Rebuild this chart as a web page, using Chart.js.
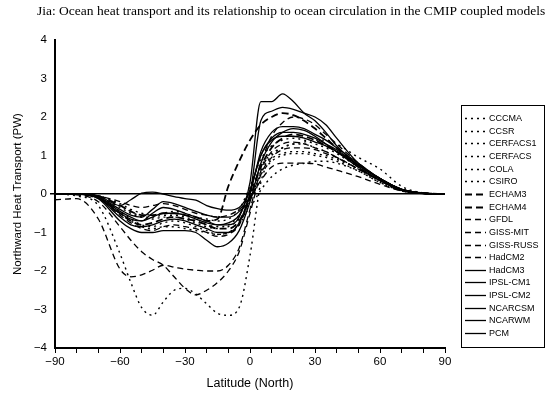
<!DOCTYPE html>
<html>
<head>
<meta charset="utf-8">
<script src="https://cdn.jsdelivr.net/npm/chart.js@4"></script>
<style>
  html, body { margin: 0; padding: 0; background: #fff; }
</style>
</head>
<body>
<canvas id="heat-chart" width="550" height="394"></canvas>
<script>
// Latitude grid (degrees North) shared by every model curve
const latitudes = [-90, -80, -70, -60, -55, -50, -45, -40, -35, -30, -25, -20, -15, -10, -5, 0, 5, 10, 15, 20, 25, 30, 35, 40, 50, 60, 70, 80, 90];

// Northward heat transport (PW)
const cccma    = [0, 0, -0.08, -0.35, -0.5, -0.6, -0.6, -0.55, -0.55, -0.6, -0.7, -0.8, -0.85, -0.8, -0.55, 0.0, 0.7, 1.05, 1.2, 1.3, 1.35, 1.4, 1.4, 1.3, 0.95, 0.65, 0.2, 0.03, 0];
const ccsr     = [0, -0.02, -0.12, -0.5, -0.7, -0.85, -0.9, -0.85, -0.85, -0.9, -0.95, -1.0, -1.05, -1.0, -0.75, -0.15, 0.5, 0.85, 1.0, 1.05, 1.05, 1.0, 0.95, 0.85, 0.6, 0.3, 0.08, 0.01, 0];
const cerfacs1 = [0, 0, -0.05, -0.25, -0.4, -0.5, -0.55, -0.5, -0.45, -0.5, -0.6, -0.65, -0.7, -0.65, -0.4, 0.2, 0.9, 1.25, 1.4, 1.45, 1.4, 1.3, 1.2, 1.05, 0.7, 0.35, 0.1, 0.02, 0];
const cerfacs  = [0, 0, -0.08, -0.45, -0.65, -0.8, -0.85, -0.75, -0.7, -0.75, -0.85, -0.95, -1.05, -1.0, -0.8, -0.2, 0.55, 1.0, 1.2, 1.3, 1.3, 1.2, 1.1, 0.95, 0.65, 0.35, 0.1, 0.02, 0];
const cola     = [0, 0, -0.05, -0.3, -0.45, -0.6, -0.65, -0.6, -0.6, -0.65, -0.75, -0.85, -0.9, -0.85, -0.65, -0.35, 0.1, 0.45, 0.65, 0.75, 0.8, 0.85, 0.85, 0.8, 0.6, 0.3, 0.08, 0.01, 0];
const csiro    = [0, -0.05, -0.3, -1.55, -2.3, -2.95, -3.15, -2.8, -2.5, -2.45, -2.6, -2.85, -3.1, -3.15, -2.95, -1.6, 0.3, 0.9, 1.05, 1.1, 1.1, 1.05, 1.0, 0.9, 0.65, 0.35, 0.1, 0.02, 0];
const echam3   = [0, 0, -0.05, -0.3, -0.45, -0.55, -0.55, -0.5, -0.5, -0.55, -0.6, -0.7, -0.65, 0.2, 0.85, 1.4, 1.8, 2.0, 2.1, 2.05, 1.9, 1.7, 1.45, 1.2, 0.7, 0.35, 0.1, 0.02, 0];
const echam4   = [0, 0, -0.1, -0.5, -0.7, -0.8, -0.75, -0.65, -0.6, -0.65, -0.7, -0.8, -0.9, -0.9, -0.7, -0.1, 0.7, 1.2, 1.45, 1.55, 1.5, 1.4, 1.25, 1.1, 0.75, 0.4, 0.12, 0.02, 0];
const gfdl     = [0, 0, -0.05, -0.2, -0.3, -0.35, -0.3, -0.25, -0.3, -0.4, -0.5, -0.55, -0.6, -0.55, -0.4, -0.1, 0.35, 0.7, 0.8, 0.8, 0.8, 0.78, 0.7, 0.62, 0.45, 0.25, 0.08, 0.01, 0];
const gissMit  = [0, -0.02, -0.2, -0.85, -1.2, -1.5, -1.7, -1.85, -2.15, -2.45, -2.62, -2.5, -2.3, -2.0, -1.5, -0.5, 0.5, 0.95, 1.15, 1.2, 1.2, 1.15, 1.05, 0.95, 0.65, 0.35, 0.1, 0.02, 0];
const gissRuss = [-0.15, -0.12, -0.65, -1.95, -2.15, -2.1, -1.98, -1.85, -1.9, -1.95, -1.98, -2.0, -2.0, -1.85, -1.4, -0.4, 0.6, 1.1, 1.3, 1.35, 1.3, 1.2, 1.1, 0.95, 0.65, 0.35, 0.1, 0.02, 0];
const hadcm2   = [0, 0, -0.1, -0.55, -0.75, -0.9, -0.95, -0.85, -0.8, -0.85, -0.9, -1.0, -1.1, -1.05, -0.8, -0.1, 0.8, 1.5, 1.85, 2.0, 1.95, 1.8, 1.55, 1.3, 0.8, 0.4, 0.12, 0.02, 0];
const hadcm3   = [0, 0, -0.08, -0.4, -0.55, -0.6, -0.4, -0.2, -0.25, -0.35, -0.45, -0.55, -0.6, -0.6, -0.45, 0.0, 1.9, 2.15, 2.25, 2.2, 2.1, 2.0, 1.8, 1.45, 0.8, 0.4, 0.12, 0.02, 0];
const ipslCm1  = [0, 0, -0.05, -0.3, -0.15, 0.02, 0.05, 0.0, -0.07, -0.12, -0.16, -0.3, -0.38, -0.42, -0.35, 0.1, 1.0, 1.45, 1.6, 1.6, 1.55, 1.45, 1.3, 1.15, 0.75, 0.4, 0.12, 0.02, 0];
const ipslCm2  = [0, 0, -0.1, -0.5, -0.65, -0.7, -0.6, -0.5, -0.5, -0.55, -0.65, -0.75, -0.8, -0.8, -0.6, 0.3, 2.4, 2.4, 2.6, 2.4, 2.1, 1.9, 1.6, 1.25, 0.75, 0.4, 0.12, 0.02, 0];
const ncarCsm  = [0, 0, -0.12, -0.7, -0.9, -1.0, -1.0, -0.95, -0.95, -0.95, -1.0, -1.2, -1.37, -1.28, -0.95, -0.2, 0.8, 1.35, 1.6, 1.7, 1.65, 1.5, 1.3, 1.1, 0.7, 0.35, 0.1, 0.02, 0];
const ncarWm   = [0, 0, -0.1, -0.6, -0.8, -0.85, -0.8, -0.7, -0.65, -0.7, -0.8, -0.9, -1.0, -1.0, -0.75, 0.0, 1.1, 1.6, 1.75, 1.75, 1.7, 1.55, 1.4, 1.2, 0.8, 0.4, 0.12, 0.02, 0];
const pcm      = [0, 0, -0.08, -0.45, -0.6, -0.7, -0.5, -0.35, -0.4, -0.5, -0.6, -0.7, -0.8, -0.75, -0.55, 0.1, 1.0, 1.4, 1.5, 1.5, 1.45, 1.35, 1.25, 1.1, 0.75, 0.4, 0.12, 0.02, 0];

const modelNames = ['CCCMA', 'CCSR', 'CERFACS1', 'CERFACS', 'COLA', 'CSIRO', 'ECHAM3', 'ECHAM4', 'GFDL',
	'GISS-MIT', 'GISS-RUSS', 'HadCM2', 'HadCM3', 'IPSL-CM1', 'IPSL-CM2', 'NCARCSM', 'NCARWM', 'PCM'];
const modelValues = [cccma, ccsr, cerfacs1, cerfacs, cola, csiro, echam3, echam4, gfdl,
	gissMit, gissRuss, hadcm2, hadcm3, ipslCm1, ipslCm2, ncarCsm, ncarWm, pcm];

// line styles: first six dotted, next six dashed, last six solid
function lineStyle(i) {
	if (i < 6) return { dash: [2, 4], width: 1.4 };
	if (i < 8) return { dash: [7, 4], width: 1.8 };
	if (i < 12) return { dash: [6, 4], width: 1.3 };
	return { dash: [], width: 1.3 };
}

const titleText = 'Jia: Ocean heat transport and its relationship to ocean circulation in the CMIP coupled models';

const datasets = modelNames.map((name, i) => {
	const st = lineStyle(i);
	return {
		label: name,
		data: latitudes.map((lat, k) => ({ x: lat, y: modelValues[i][k] })),
		borderColor: '#000',
		borderWidth: st.width,
		borderDash: st.dash,
		pointRadius: 0,
		fill: false,
		cubicInterpolationMode: 'monotone'
	};
});

function minusLabel(v) {
	return v < 0 ? '\u2212' + Math.abs(v) : String(v);
}

// title and boxed legend drawn by hand to sit like the printed figure
const paperPlugin = {
	id: 'paper',
	afterDraw(chart) {
		const ctx = chart.ctx;
		ctx.save();
		ctx.fillStyle = '#000';
		ctx.textBaseline = 'middle';
		ctx.font = '13.5px "Liberation Serif"';
		ctx.fillText(titleText, 37, 11);

		ctx.strokeStyle = '#000';
		ctx.lineWidth = 1;
		ctx.strokeRect(461.5, 105.5, 83, 242);
		ctx.font = '9px "Liberation Sans"';
		chart.data.datasets.forEach((ds, i) => {
			const y = Math.round(118 + i * 12.65) + 0.5;
			ctx.setLineDash(ds.borderDash);
			ctx.lineWidth = ds.borderWidth;
			ctx.beginPath();
			ctx.moveTo(465, y);
			ctx.lineTo(486, y);
			ctx.stroke();
			ctx.setLineDash([]);
			ctx.fillText(ds.label, 489, y);
		});
		ctx.restore();
	}
};

const axisFont = { family: 'Liberation Sans', size: 11.5 };

new Chart(document.getElementById('heat-chart').getContext('2d'), {
	type: 'line',
	data: { datasets },
	plugins: [paperPlugin],
	options: {
		responsive: false,
		animation: false,
		layout: { padding: { left: 0, right: 105, top: 40, bottom: 0 } },
		plugins: {
			legend: { display: false },
			tooltip: { enabled: false }
		},
		scales: {
			x: {
				type: 'linear',
				min: -90,
				max: 90,
				afterFit: s => { s.height = 46; },
				border: { color: '#000', width: 2 },
				grid: { drawOnChartArea: false, tickColor: '#000', tickLength: 5 },
				ticks: {
					stepSize: 10,
					autoSkip: false,
					maxRotation: 0,
					padding: 2,
					color: '#000',
					font: axisFont,
					callback: v => (v % 30 === 0 ? minusLabel(v) : '')
				},
				title: {
					display: true,
					text: 'Latitude (North)',
					color: '#000',
					font: { family: 'Liberation Sans', size: 12.5 },
					padding: { top: 0, bottom: 3 }
				}
			},
			y: {
				min: -4,
				max: 4,
				afterFit: s => { s.width = 55; },
				border: { color: '#000', width: 2 },
				grid: {
					color: c => (c.tick && c.tick.value === 0 ? '#000' : 'rgba(0,0,0,0)'),
					lineWidth: c => (c.tick && c.tick.value === 0 ? 1.5 : 0),
					tickColor: '#000',
					tickLength: 5
				},
				ticks: {
					stepSize: 0.5,
					padding: 3,
					color: '#000',
					font: axisFont,
					callback: v => (Number.isInteger(v) ? minusLabel(v) : '')
				},
				title: {
					display: true,
					text: 'Northward Heat Transport (PW)',
					color: '#000',
					font: { family: 'Liberation Sans', size: 11.5 },
					padding: { top: 11, bottom: 0 }
				}
			}
		}
	}
});
</script>
</body>
</html>
